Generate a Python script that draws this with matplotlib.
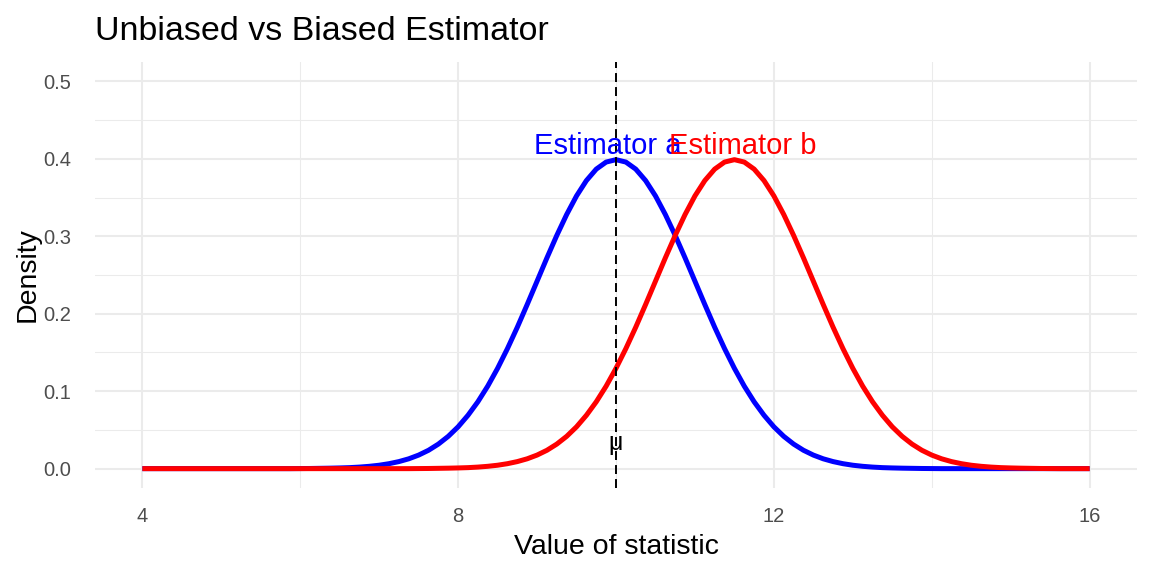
import matplotlib
matplotlib.use("Agg")
import matplotlib.pyplot as plt

# valeurs (pas de 0.125)
x_vals = [4 + 0.125 * i for i in range(97)]

density_a = [0, 0, 0, 0, 0, 0, 0, 0, 0, 0, 0, 0, 0, 0, 0, 0,
             0.0001, 0.0002, 0.0004, 0.0006, 0.0009, 0.0013, 0.0020, 0.0030,
             0.0044, 0.0064, 0.0091, 0.0127, 0.0175, 0.0237, 0.0317, 0.0417,
             0.0540, 0.0689, 0.0863, 0.1065, 0.1295, 0.1550, 0.1826, 0.2119,
             0.2420, 0.2721, 0.3011, 0.3281, 0.3521, 0.3719, 0.3867, 0.3958,
             0.3989,
             0.3958, 0.3867, 0.3719, 0.3521, 0.3281, 0.3011, 0.2721, 0.2420,
             0.2119, 0.1826, 0.1550, 0.1295, 0.1065, 0.0863, 0.0689, 0.0540,
             0.0417, 0.0317, 0.0237, 0.0175, 0.0127, 0.0091, 0.0064, 0.0044,
             0.0030, 0.0020, 0.0013, 0.0009, 0.0006, 0.0004, 0.0002, 0.0001,
             0, 0, 0, 0, 0, 0, 0, 0, 0, 0, 0, 0, 0, 0, 0, 0]

density_b = [0, 0, 0, 0, 0, 0, 0, 0, 0, 0, 0, 0, 0, 0,
             0, 0, 0, 0, 0, 0, 0, 0, 0, 0, 0, 0, 0, 0,
             0.0001, 0.0002, 0.0004, 0.0006, 0.0009, 0.0013, 0.0020, 0.0030,
             0.0044, 0.0064, 0.0091, 0.0127, 0.0175, 0.0237, 0.0317, 0.0417,
             0.0540, 0.0689, 0.0863, 0.1065, 0.1295, 0.1550, 0.1826, 0.2119,
             0.2420, 0.2721, 0.3011, 0.3281, 0.3521, 0.3719, 0.3867, 0.3958,
             0.3989,
             0.3958, 0.3867, 0.3719, 0.3521, 0.3281, 0.3011, 0.2721, 0.2420,
             0.2119, 0.1826, 0.1550, 0.1295, 0.1065, 0.0863, 0.0689, 0.0540,
             0.0417, 0.0317, 0.0237, 0.0175, 0.0127, 0.0091, 0.0064, 0.0044,
             0.0030, 0.0020, 0.0013, 0.0009, 0.0006, 0.0004, 0.0002, 0.0001,
             0, 0, 0, 0]

mu = 10
label_x = [9.9, 11.6]
label_y = 0.416
labels = ["Estimator a", "Estimator b"]
x_ticks = [4, 8, 12, 16]
x_minor = [6, 10, 14]
y_ticks = [0.0, 0.1, 0.2, 0.3, 0.4, 0.5]
y_minor = [0.05, 0.15, 0.25, 0.35, 0.45]

plt.rcParams['font.family'] = ['Liberation Sans', 'DejaVu Sans']

fig = plt.figure(figsize=(11.52, 5.76), dpi=100)
ax = fig.add_axes([95 / 1152, 1 - 488 / 576, (1137 - 95) / 1152, (488 - 62) / 576])

# grille style theme_minimal
ax.set_xticks(x_ticks)
ax.set_xticks(x_minor, minor=True)
ax.set_yticks(y_ticks)
ax.set_yticks(y_minor, minor=True)
ax.grid(True, which='major', color='#EBEBEB', linewidth=1.5)
ax.grid(True, which='minor', color='#EBEBEB', linewidth=0.75)
ax.set_axisbelow(True)
for s in ax.spines.values():
    s.set_visible(False)
ax.tick_params(which='both', length=0)
ax.tick_params(axis='x', pad=14, labelsize=14.5, labelcolor='#4D4D4D')
ax.tick_params(axis='y', pad=17, labelsize=14.5, labelcolor='#4D4D4D')
ax.set_yticklabels([f'{v:.1f}' for v in y_ticks])

ax.plot(x_vals, density_a, color='blue', linewidth=3.6, solid_capstyle='butt')
ax.plot(x_vals, density_b, color='red', linewidth=3.6, solid_capstyle='butt')
ax.axvline(mu, color='black', linewidth=1.4, linestyle=(0, (4.6, 2.6)))

ax.text(label_x[0], label_y, labels[0], color='blue', fontsize=21, ha='center', va='center')
ax.text(label_x[1], label_y, labels[1], color='red', fontsize=21, ha='center', va='center')
ax.text(mu, 0.033, 'μ', color='black', fontsize=18, ha='center', va='center')

ax.set_xlim(3.4, 16.6)
ax.set_ylim(-0.025, 0.525)

fig.text(95 / 1152, 1 - 40 / 576, 'Unbiased vs Biased Estimator', fontsize=24.5,
         ha='left', va='baseline')
fig.text(616 / 1152, 1 - 547 / 576, 'Value of statistic', fontsize=20.5,
         ha='center', va='center')
fig.text(28 / 1152, 1 - 275 / 576, 'Density', fontsize=20.5, rotation=90,
         ha='center', va='center')

fig.savefig('out.png', dpi=100, facecolor='white')
